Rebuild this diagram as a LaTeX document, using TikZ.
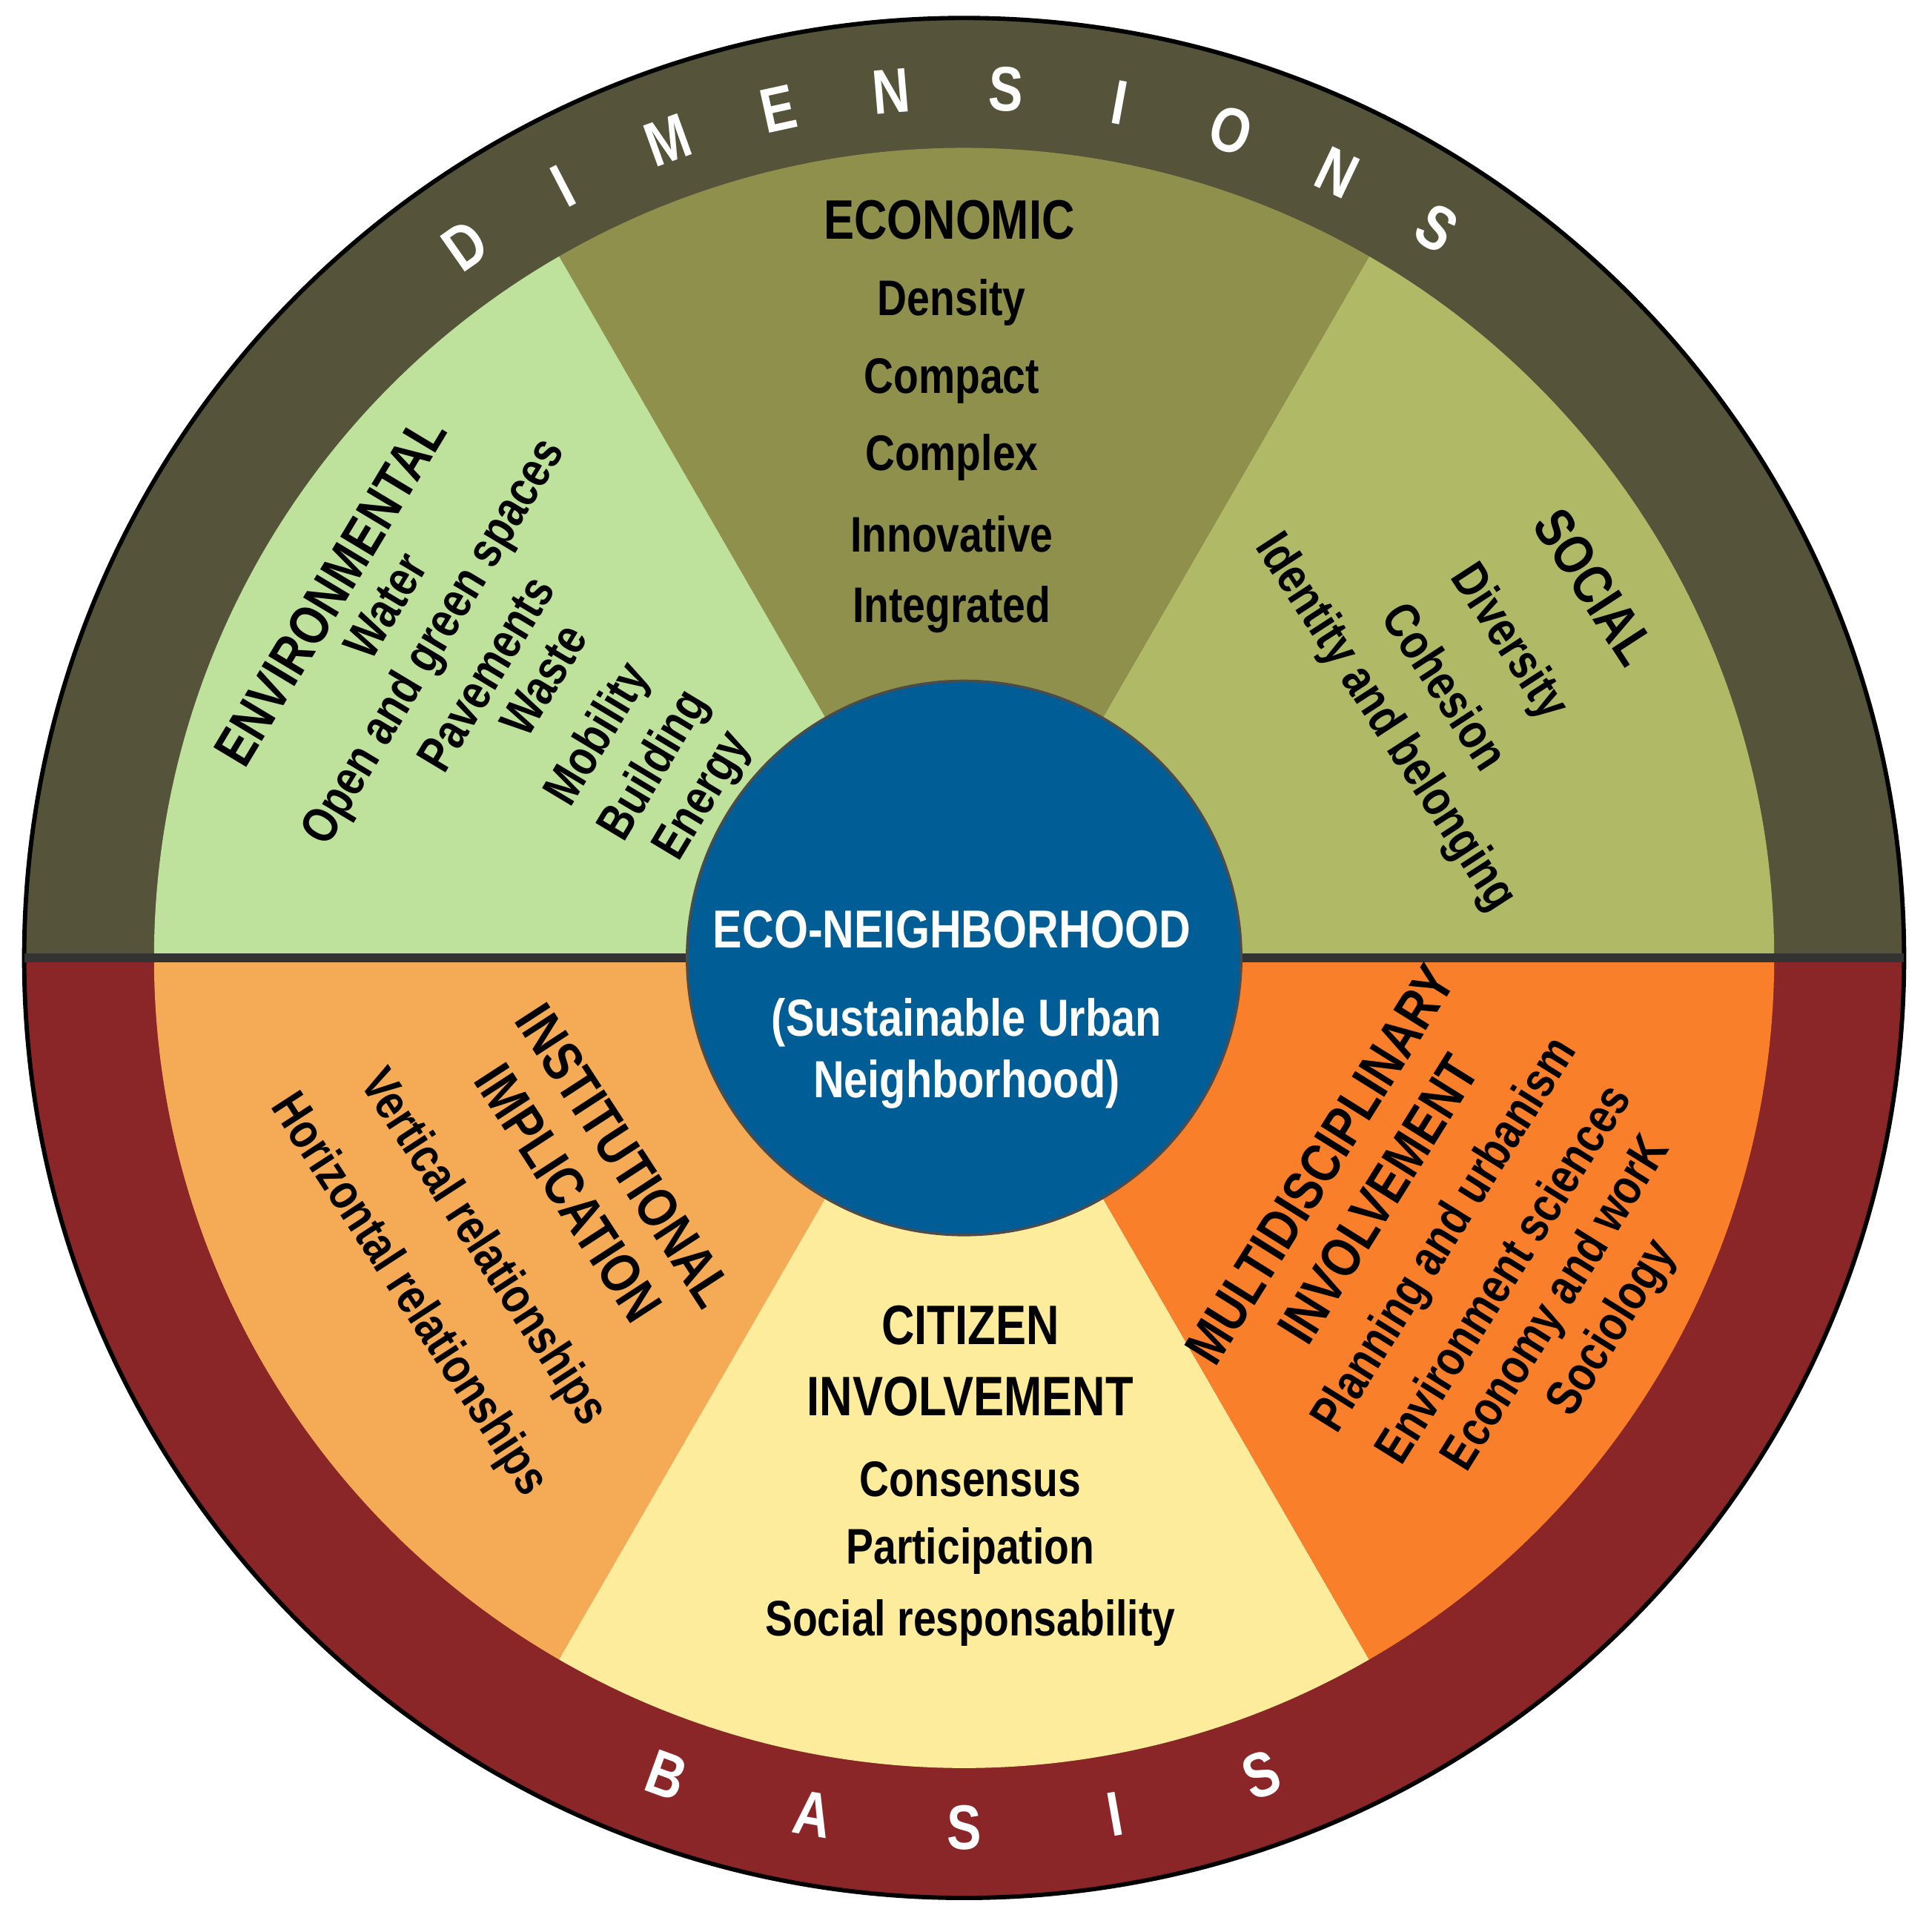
\documentclass[tikz,border=0pt]{standalone}
\usepackage{fontspec}
\usetikzlibrary{calc}
\setmainfont{Liberation Sans}[FakeStretch=0.82]
\begin{document}
\begin{tikzpicture}[x=0.01cm,y=0.01cm,
  item/.style={font=\bfseries\fontsize{11.5}{13}\selectfont,inner sep=0pt},
  ttl/.style={font=\bfseries\fontsize{12.8}{15}\selectfont,inner sep=0pt},
  ring/.style={font=\bfseries\fontsize{14.5}{17}\selectfont,text=white,inner sep=0pt}]
\definecolor{ringtop}{HTML}{55543A}
\definecolor{ringbot}{HTML}{8A2528}
\definecolor{eco}{HTML}{8F904B}
\definecolor{soc}{HTML}{AFB966}
\definecolor{env}{HTML}{BEE19B}
\definecolor{ins}{HTML}{F5AB55}
\definecolor{cit}{HTML}{FDEC9B}
\definecolor{mul}{HTML}{F97F2B}
\definecolor{ctr}{HTML}{005D95}
\useasboundingbox (0,0) rectangle (1558,1563);
\coordinate (c) at (780,788);
\fill[ringtop] (c) ++(0:7.6cm) arc[start angle=0,end angle=180,radius=7.6cm] -- cycle;
\fill[ringbot] (c) ++(180:7.6cm) arc[start angle=180,end angle=360,radius=7.6cm] -- cycle;
\draw[line width=1pt] (c) circle[radius=7.6cm];
\foreach \a/\col in {0/soc,60/eco,120/env,180/ins,240/cit,300/mul}{
  \fill[\col] (c) -- ++(\a:6.55cm) arc[start angle=\a,end angle=\a+60,radius=6.55cm] -- cycle;}
\draw[line width=2pt,black!80] (c) ++(180:7.6cm) -- ++(15.2cm,0);
\fill[ctr] (c) circle[radius=2.24cm];
\draw[black!70,line width=0.6pt] (c) circle[radius=2.24cm];
% ring letters
\foreach \l [count=\i from 0] in {D,I,M,E,N,S,I,O,N,S}{
  \pgfmathsetmacro{\ang}{125-\i*7.55}
  \node[ring,rotate=\ang-90] (d\i) at ($(c)+(\ang:7.03cm)$) {\l};}
\foreach \l [count=\i from 0] in {B,A,S,I,S}{
  \pgfmathsetmacro{\ang}{250+\i*10}
  \node[ring,rotate=\ang+90] (b\i) at ($(c)+(\ang:7.03cm)$) {\l};}
% economic
\node[ttl] (ecot) at (768,1385) {ECONOMIC};
\node[item] (e1) at (770,1318) {Density};
\node[item] (e2) at (770,1255) {Compact};
\node[item] (e3) at (770,1193) {Complex};
\node[item] (e4) at (770,1131) {Innovative};
\node[item] (e5) at (770,1070) {Integrated};
% citizen
\node[ttl] (cit1) at (785,491) {CITIZEN};
\node[ttl] (cit2) at (785,433) {INVOLVEMENT};
\node[item] (c1) at (785,366) {Consensus};
\node[item] (c2) at (785,308) {Participation};
\node[item] (c3) at (785,250) {Social responsability};
% environmental
\node[ttl,rotate=59] (envt) at (267,1085) {ENVIRONMENTAL};
\node[item,rotate=59] (v1) at (312,1073) {Water};
\node[item,rotate=59] (v2) at (352,1043) {Open and green spaces};
\node[item,rotate=59] (v3) at (393,1018) {Pavements};
\node[item,rotate=59] (v4) at (440,1013) {Waste};
\node[item,rotate=59] (v5) at (485,968) {Mobility};
\node[item,rotate=59] (v6) at (530,943) {Building};
\node[item,rotate=59] (v7) at (570,918) {Energy};
% social
\node[ttl,rotate=-57] (soct) at (1290,1088) {SOCIAL};
\node[item,rotate=-57] (s1) at (1220,1043) {Diversity};
\node[item,rotate=-57] (s2) at (1170,1008) {Cohesion};
\node[item,rotate=-57] (s3) at (1120,978) {Identity and belonging};
% institutional
\node[ttl,rotate=-57] (inst1) at (505,628) {INSTITUTIONAL};
\node[ttl,rotate=-57] (inst2) at (460,598) {IMPLICATION};
\node[item,rotate=-57] (i1) at (390,553) {Vertical relationships};
\node[item,rotate=-57] (i2) at (330,515) {Horizontal relationships};
% multidisciplinary
\node[ttl,rotate=58] (mul1) at (1068,621) {MULTIDISCIPLINARY};
\node[ttl,rotate=58] (mul2) at (1115,593) {INVOLVEMENT};
\node[item,rotate=58] (m1) at (1170,563) {Planning and urbanism};
\node[item,rotate=58] (m2) at (1215,533) {Environment sciences};
\node[item,rotate=58] (m3) at (1260,508) {Economy and worK};
\node[item,rotate=58] (m4) at (1305,488) {Sociology};
% center
\node[ttl,text=white,font=\bfseries\fontsize{12.3}{15}\selectfont] (cen1) at (770,811) {ECO-NEIGHBORHOOD};
\node[item,text=white,font=\bfseries\fontsize{12}{14}\selectfont] (cen2) at (782,736) {(Sustainable Urban};
\node[item,text=white,font=\bfseries\fontsize{12}{14}\selectfont] (cen3) at (782,686) {Neighborhood)};
\end{tikzpicture}
\end{document}
